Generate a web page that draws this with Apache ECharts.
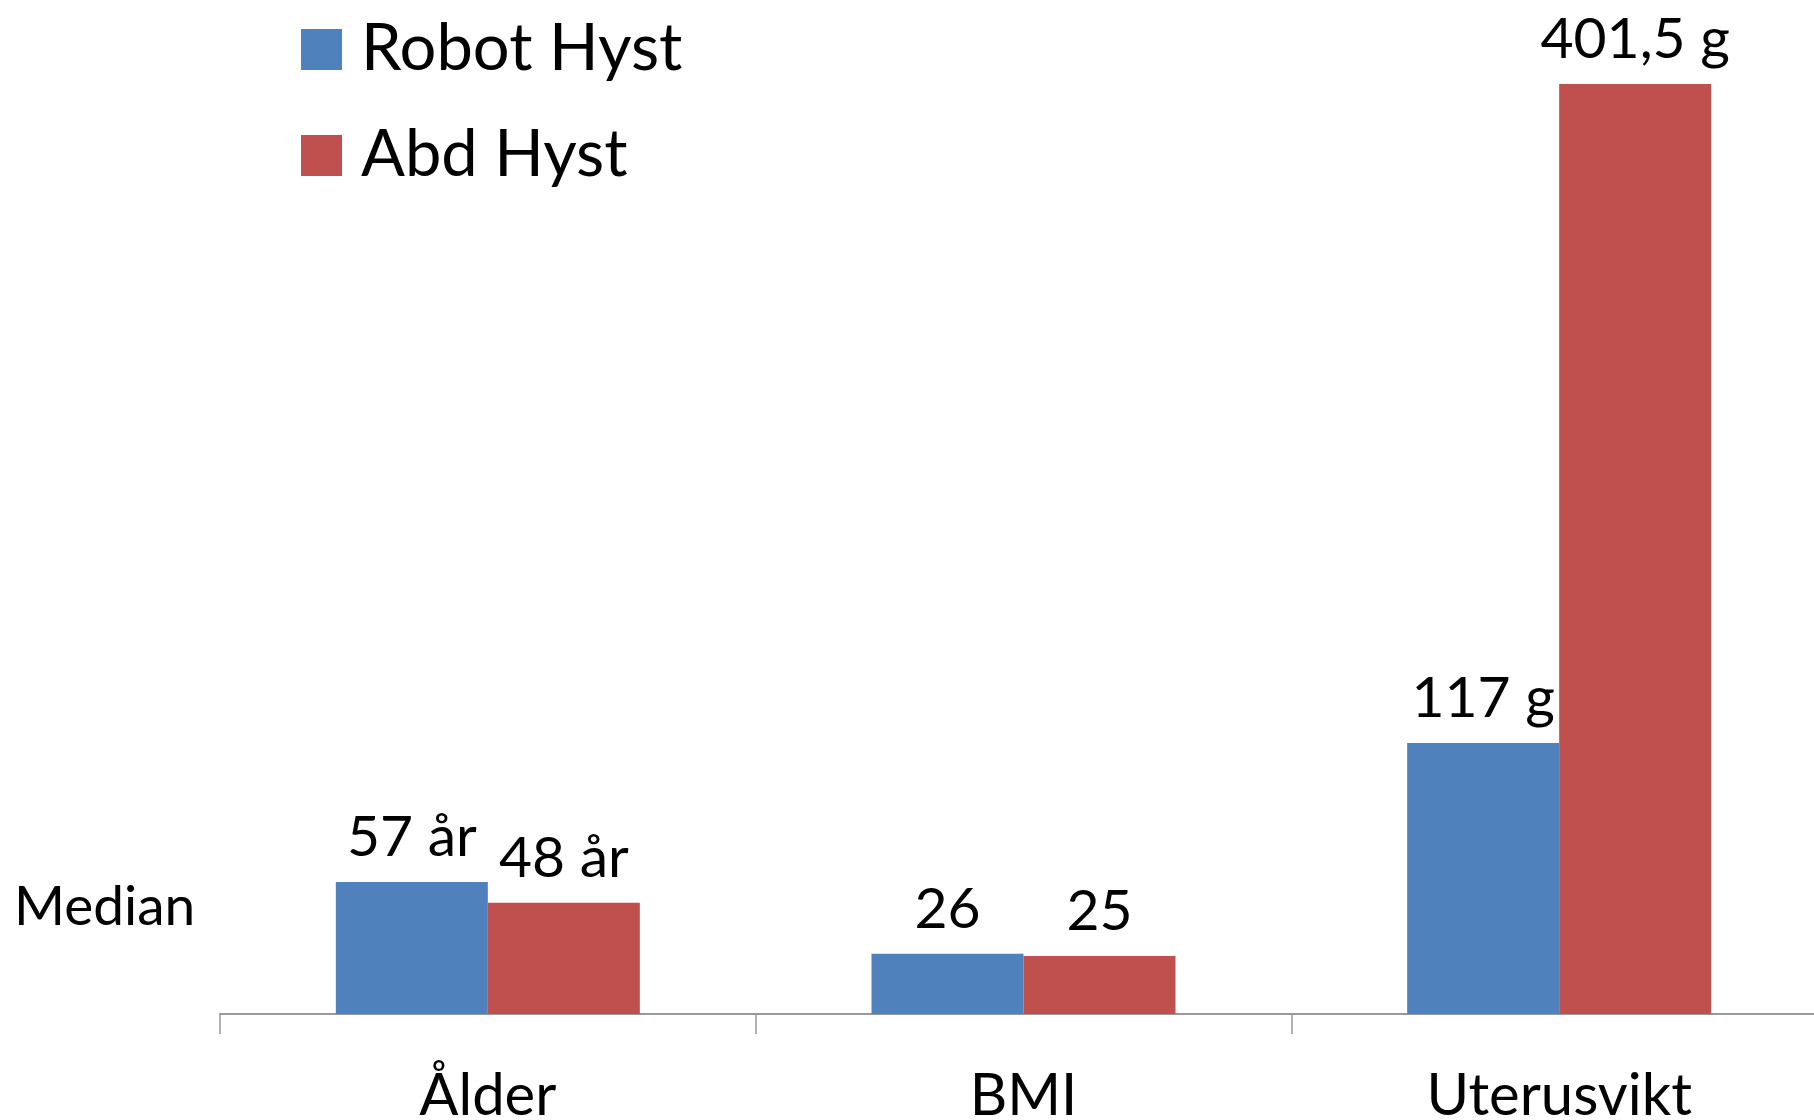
<!DOCTYPE html>
<html>
<head>
<meta charset="utf-8">
<script src="https://cdn.jsdelivr.net/npm/echarts@6/dist/echarts.min.js"></script>
<style>
  html, body { margin: 0; padding: 0; background: #fff; }
  #chart { width: 1814px; height: 1120px; }
</style>
</head>
<body>
<div id="chart"></div>
<script>
// categories and values (median)
var categories = ['Ålder', 'BMI', 'Uterusvikt'];
var robotValues = [57, 26, 117];
var abdValues = [48, 25, 401.5];
var robotLabels = ['57 år', '26', '117 g'];
var abdLabels = ['48 år', '25', '401,5 g'];

var FONT = 'Lato';

var chart = echarts.init(document.getElementById('chart'));

var option = {
  animation: false,
  legend: {
    orient: 'vertical',
    left: 296,
    top: 12,
    itemWidth: 41,
    itemHeight: 41,
    itemGap: 41,
    icon: 'rect',
    textStyle: {
      fontFamily: FONT,
      fontSize: 65,
      lineHeight: 64,
      color: '#000',
      padding: [0, 0, 0, 14]
    },
    data: ['Robot Hyst', 'Abd Hyst']
  },
  grid: {
    left: 220,
    width: 1607,
    top: 18,
    bottom: 106,
    containLabel: false,
    outerBoundsMode: 'none'
  },
  xAxis: {
    type: 'category',
    data: categories,
    axisLine: { lineStyle: { color: '#999', width: 2 } },
    axisTick: { show: true, length: 20, lineStyle: { color: '#999', width: 1.5 } },
    axisLabel: {
      fontFamily: FONT,
      fontSize: 58,
      color: '#000',
      margin: 53
    }
  },
  yAxis: {
    type: 'value',
    min: 0,
    max: 430,
    show: false,
    splitLine: { show: false }
  },
  graphic: [{
    type: 'text',
    left: 14,
    top: 880,
    style: {
      text: 'Median',
      font: '55px ' + FONT,
      fill: '#000'
    }
  }],
  series: [{
    name: 'Robot Hyst',
    type: 'bar',
    data: robotValues,
    barWidth: 152,
    barGap: '0%',
    itemStyle: { color: '#4F81BD' },
    label: {
      show: true,
      position: 'top',
      distance: 16,
      fontFamily: FONT,
      fontSize: 57,
      color: '#000',
      formatter: function (p) { return robotLabels[p.dataIndex]; }
    }
  }, {
    name: 'Abd Hyst',
    type: 'bar',
    data: abdValues,
    barWidth: 152,
    barGap: '0%',
    itemStyle: { color: '#C0504D' },
    label: {
      show: true,
      position: 'top',
      distance: 16,
      fontFamily: FONT,
      fontSize: 57,
      color: '#000',
      formatter: function (p) { return abdLabels[p.dataIndex]; }
    }
  }]
};

chart.setOption(option);
</script>
</body>
</html>
